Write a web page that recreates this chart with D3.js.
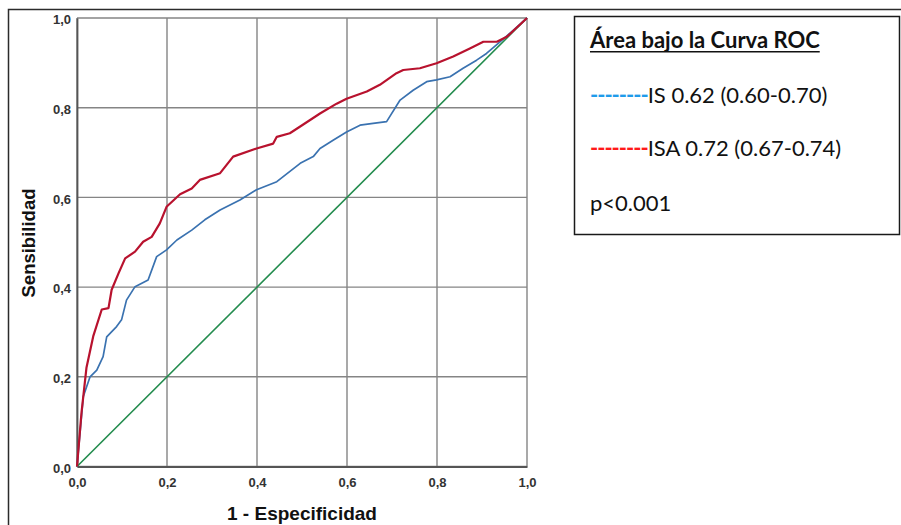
<!DOCTYPE html>
<html>
<head>
<meta charset="utf-8">
<script src="https://cdn.jsdelivr.net/npm/d3@7"></script>
<style>
  body { margin: 0; background: #fff; }
  svg { display: block; }
</style>
</head>
<body>
<script>
// ROC curve points (1 - especificidad, sensibilidad)
var isa_fpr = [0, 0.010, 0.021, 0.036, 0.055, 0.070, 0.077, 0.092, 0.107, 0.129, 0.147, 0.166, 0.184, 0.199, 0.229, 0.255, 0.273, 0.318, 0.347, 0.399, 0.436, 0.444, 0.473, 0.496, 0.540, 0.577, 0.599, 0.644, 0.673, 0.710, 0.725, 0.762, 0.799, 0.836, 0.873, 0.903, 0.933, 0.955, 1];
var isa_tpr = [0, 0.120, 0.220, 0.290, 0.350, 0.353, 0.394, 0.430, 0.464, 0.479, 0.501, 0.512, 0.542, 0.579, 0.607, 0.620, 0.639, 0.654, 0.691, 0.709, 0.720, 0.735, 0.743, 0.758, 0.787, 0.809, 0.820, 0.836, 0.851, 0.877, 0.884, 0.888, 0.899, 0.914, 0.932, 0.947, 0.947, 0.958, 1];

var is_fpr = [0, 0.014, 0.029, 0.044, 0.058, 0.066, 0.088, 0.099, 0.110, 0.129, 0.158, 0.177, 0.199, 0.222, 0.255, 0.284, 0.318, 0.362, 0.399, 0.444, 0.496, 0.525, 0.540, 0.570, 0.599, 0.629, 0.658, 0.688, 0.718, 0.747, 0.777, 0.799, 0.829, 0.858, 0.888, 0.910, 0.940, 0.970, 1];
var is_tpr = [0, 0.156, 0.200, 0.215, 0.245, 0.289, 0.312, 0.327, 0.371, 0.401, 0.416, 0.468, 0.483, 0.505, 0.527, 0.550, 0.572, 0.594, 0.617, 0.635, 0.676, 0.691, 0.709, 0.728, 0.746, 0.761, 0.765, 0.769, 0.817, 0.839, 0.858, 0.862, 0.869, 0.888, 0.906, 0.921, 0.947, 0.973, 1];

var ref_line = [0, 1];
var tick_values = [0, 0.2, 0.4, 0.6, 0.8, 1.0];

var x_title = "1 - Especificidad";
var y_title = "Sensibilidad";
var legend_title = "Área bajo la Curva ROC";
var legend_rows = [
  {dash: "--------", label: "IS 0.62 (0.60-0.70)", colour: "#1f9bea"},
  {dash: "--------", label: "ISA 0.72 (0.67-0.74)", colour: "#ff1a1a"}
];
var p_text = "p<0.001";

var width = 901, height = 525;
var AXIS_FONT = "'Liberation Sans', Arial, sans-serif";
var LEGEND_FONT = "Lato, 'Open Sans', sans-serif";
var LEGEND_SIZE = 22;

var svg = d3.select("body").append("svg")
  .attr("width", width)
  .attr("height", height);

// outer frame (runs off right / bottom edge)
svg.append("rect")
  .attr("x", 8.5).attr("y", 9.5)
  .attr("width", 1000).attr("height", 1000)
  .attr("fill", "none")
  .attr("stroke", "#2b2b2b")
  .attr("stroke-width", 1.5);

var x = d3.scaleLinear().domain([0, 1]).range([77, 527]);
var y = d3.scaleLinear().domain([0, 1]).range([466.5, 18]);

var fmt = function(d) { return d3.format(".1f")(d).replace(".", ","); };

// grid
var grid = svg.append("g");
grid.selectAll("line.v")
  .data(tick_values)
  .enter().append("line")
  .attr("x1", function(d) { return x(d); })
  .attr("x2", function(d) { return x(d); })
  .attr("y1", y(0)).attr("y2", y(1))
  .attr("stroke", "#858585")
  .attr("stroke-width", 1.4);
grid.selectAll("line.h")
  .data(tick_values)
  .enter().append("line")
  .attr("y1", function(d) { return y(d); })
  .attr("y2", function(d) { return y(d); })
  .attr("x1", x(0)).attr("x2", x(1))
  .attr("stroke", "#858585")
  .attr("stroke-width", 1.4);

// axes
var x_axis = svg.append("g")
  .attr("transform", "translate(0," + y(0) + ")")
  .call(d3.axisBottom(x).tickValues(tick_values).tickFormat(fmt).tickSize(0).tickPadding(11));
var y_axis = svg.append("g")
  .attr("transform", "translate(" + x(0) + ",0)")
  .call(d3.axisLeft(y).tickValues(tick_values).tickFormat(fmt).tickSize(0).tickPadding(6));

[x_axis, y_axis].forEach(function(a) {
  a.select(".domain").attr("stroke", "#555").attr("stroke-width", 1.8);
  a.selectAll("text")
    .attr("font-family", AXIS_FONT)
    .attr("font-weight", "bold")
    .attr("font-size", 13)
    .attr("fill", "#333");
});
y_axis.selectAll("text").attr("dy", "0.45em");

// axis titles
svg.append("text")
  .attr("x", (x(0) + x(1)) / 2)
  .attr("y", 520)
  .attr("text-anchor", "middle")
  .attr("font-family", AXIS_FONT)
  .attr("font-weight", "bold")
  .attr("font-size", 19)
  .attr("fill", "#111")
  .text(x_title);

svg.append("text")
  .attr("transform", "translate(35,243) rotate(-90)")
  .attr("text-anchor", "middle")
  .attr("font-family", AXIS_FONT)
  .attr("font-weight", "bold")
  .attr("font-size", 18.5)
  .attr("fill", "#111")
  .text(y_title);

// curves
var line = d3.line()
  .x(function(d) { return x(d[0]); })
  .y(function(d) { return y(d[1]); });

svg.append("path")
  .datum(ref_line.map(function(d) { return [d, d]; }))
  .attr("fill", "none")
  .attr("stroke", "#238c4e")
  .attr("stroke-width", 1.6)
  .attr("d", line);

svg.append("path")
  .datum(d3.zip(is_fpr, is_tpr))
  .attr("fill", "none")
  .attr("stroke", "#3a72b0")
  .attr("stroke-width", 1.7)
  .attr("stroke-linejoin", "round")
  .attr("d", line);

svg.append("path")
  .datum(d3.zip(isa_fpr, isa_tpr))
  .attr("fill", "none")
  .attr("stroke", "#b8122e")
  .attr("stroke-width", 2.2)
  .attr("stroke-linejoin", "round")
  .attr("d", line);

// legend box
var legend = svg.append("g");
legend.append("rect")
  .attr("x", 574.5).attr("y", 16.5)
  .attr("width", 325).attr("height", 218)
  .attr("fill", "#fff")
  .attr("stroke", "#1a1a1a")
  .attr("stroke-width", 1.5);

var title = legend.append("text")
  .attr("x", 590).attr("y", 48)
  .attr("font-family", LEGEND_FONT)
  .attr("font-weight", "bold")
  .attr("font-size", LEGEND_SIZE)
  .attr("fill", "#111")
  .text(legend_title);
var tw = title.node().getComputedTextLength();
legend.append("line")
  .attr("x1", 590).attr("x2", 590 + tw)
  .attr("y1", 51.8).attr("y2", 51.8)
  .attr("stroke", "#111")
  .attr("stroke-width", 1.6);

legend.selectAll("text.row")
  .data(legend_rows)
  .enter().append("text")
  .attr("class", "row")
  .attr("x", 590)
  .attr("y", function(d, i) { return 103 + i * 53; })
  .attr("font-family", LEGEND_FONT)
  .attr("font-size", LEGEND_SIZE)
  .attr("fill", "#111")
  .each(function(d) {
    var t = d3.select(this);
    t.append("tspan").attr("fill", d.colour).attr("letter-spacing", -1).attr("font-weight", "bold").text(d.dash);
    t.append("tspan").text(d.label);
  });

legend.append("text")
  .attr("x", 590).attr("y", 211)
  .attr("font-family", LEGEND_FONT)
  .attr("font-size", LEGEND_SIZE)
  .attr("fill", "#111")
  .text(p_text);
</script>
</body>
</html>
